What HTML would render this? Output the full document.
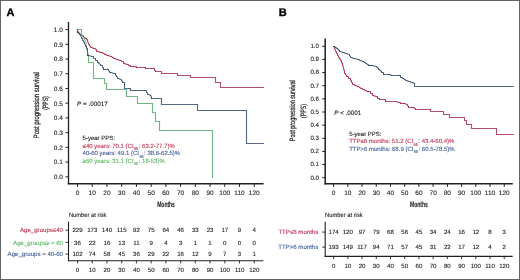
<!DOCTYPE html>
<html><head><meta charset="utf-8"><style>
html,body{margin:0;padding:0;background:#fff;}
body{width:520px;height:280px;overflow:hidden;}
svg{display:block;will-change:transform;}
svg text{font-family:"Liberation Sans", sans-serif;text-rendering:geometricPrecision;}
</style></head><body>
<svg width="520" height="280" viewBox="0 0 520 280">
<rect x="0" y="0" width="520" height="280" fill="#fff"/>
<line x1="68.50" y1="21.90" x2="68.50" y2="184.40" stroke="#202020" stroke-width="1.3"/>
<line x1="67.80" y1="183.70" x2="263.60" y2="183.70" stroke="#202020" stroke-width="1.4"/>
<line x1="65.50" y1="29.60" x2="68.50" y2="29.60" stroke="#202020" stroke-width="1.0"/>
<text x="62.90" y="31.90" font-size="6.5" text-anchor="end" fill="#262626" stroke="#262626" stroke-width="0.12" font-weight="normal" font-style="normal" >1.0</text>
<line x1="65.50" y1="44.32" x2="68.50" y2="44.32" stroke="#202020" stroke-width="1.0"/>
<text x="62.90" y="46.62" font-size="6.5" text-anchor="end" fill="#262626" stroke="#262626" stroke-width="0.12" font-weight="normal" font-style="normal" >0.9</text>
<line x1="65.50" y1="59.04" x2="68.50" y2="59.04" stroke="#202020" stroke-width="1.0"/>
<text x="62.90" y="61.34" font-size="6.5" text-anchor="end" fill="#262626" stroke="#262626" stroke-width="0.12" font-weight="normal" font-style="normal" >0.8</text>
<line x1="65.50" y1="73.76" x2="68.50" y2="73.76" stroke="#202020" stroke-width="1.0"/>
<text x="62.90" y="76.06" font-size="6.5" text-anchor="end" fill="#262626" stroke="#262626" stroke-width="0.12" font-weight="normal" font-style="normal" >0.7</text>
<line x1="65.50" y1="88.48" x2="68.50" y2="88.48" stroke="#202020" stroke-width="1.0"/>
<text x="62.90" y="90.78" font-size="6.5" text-anchor="end" fill="#262626" stroke="#262626" stroke-width="0.12" font-weight="normal" font-style="normal" >0.6</text>
<line x1="65.50" y1="103.20" x2="68.50" y2="103.20" stroke="#202020" stroke-width="1.0"/>
<text x="62.90" y="105.50" font-size="6.5" text-anchor="end" fill="#262626" stroke="#262626" stroke-width="0.12" font-weight="normal" font-style="normal" >0.5</text>
<line x1="65.50" y1="117.92" x2="68.50" y2="117.92" stroke="#202020" stroke-width="1.0"/>
<text x="62.90" y="120.22" font-size="6.5" text-anchor="end" fill="#262626" stroke="#262626" stroke-width="0.12" font-weight="normal" font-style="normal" >0.4</text>
<line x1="65.50" y1="132.64" x2="68.50" y2="132.64" stroke="#202020" stroke-width="1.0"/>
<text x="62.90" y="134.94" font-size="6.5" text-anchor="end" fill="#262626" stroke="#262626" stroke-width="0.12" font-weight="normal" font-style="normal" >0.3</text>
<line x1="65.50" y1="147.36" x2="68.50" y2="147.36" stroke="#202020" stroke-width="1.0"/>
<text x="62.90" y="149.66" font-size="6.5" text-anchor="end" fill="#262626" stroke="#262626" stroke-width="0.12" font-weight="normal" font-style="normal" >0.2</text>
<line x1="65.50" y1="162.08" x2="68.50" y2="162.08" stroke="#202020" stroke-width="1.0"/>
<text x="62.90" y="164.38" font-size="6.5" text-anchor="end" fill="#262626" stroke="#262626" stroke-width="0.12" font-weight="normal" font-style="normal" >0.1</text>
<line x1="65.50" y1="176.80" x2="68.50" y2="176.80" stroke="#202020" stroke-width="1.0"/>
<text x="62.90" y="179.10" font-size="6.5" text-anchor="end" fill="#262626" stroke="#262626" stroke-width="0.12" font-weight="normal" font-style="normal" >0.0</text>
<line x1="77.50" y1="183.70" x2="77.50" y2="186.90" stroke="#202020" stroke-width="1.0"/>
<text x="77.50" y="195.20" font-size="6.5" text-anchor="middle" fill="#262626" stroke="#262626" stroke-width="0.12" font-weight="normal" font-style="normal" >0</text>
<line x1="92.23" y1="183.70" x2="92.23" y2="186.90" stroke="#202020" stroke-width="1.0"/>
<text x="92.23" y="195.20" font-size="6.5" text-anchor="middle" fill="#262626" stroke="#262626" stroke-width="0.12" font-weight="normal" font-style="normal" >10</text>
<line x1="106.96" y1="183.70" x2="106.96" y2="186.90" stroke="#202020" stroke-width="1.0"/>
<text x="106.96" y="195.20" font-size="6.5" text-anchor="middle" fill="#262626" stroke="#262626" stroke-width="0.12" font-weight="normal" font-style="normal" >20</text>
<line x1="121.69" y1="183.70" x2="121.69" y2="186.90" stroke="#202020" stroke-width="1.0"/>
<text x="121.69" y="195.20" font-size="6.5" text-anchor="middle" fill="#262626" stroke="#262626" stroke-width="0.12" font-weight="normal" font-style="normal" >30</text>
<line x1="136.42" y1="183.70" x2="136.42" y2="186.90" stroke="#202020" stroke-width="1.0"/>
<text x="136.42" y="195.20" font-size="6.5" text-anchor="middle" fill="#262626" stroke="#262626" stroke-width="0.12" font-weight="normal" font-style="normal" >40</text>
<line x1="151.15" y1="183.70" x2="151.15" y2="186.90" stroke="#202020" stroke-width="1.0"/>
<text x="151.15" y="195.20" font-size="6.5" text-anchor="middle" fill="#262626" stroke="#262626" stroke-width="0.12" font-weight="normal" font-style="normal" >50</text>
<line x1="165.88" y1="183.70" x2="165.88" y2="186.90" stroke="#202020" stroke-width="1.0"/>
<text x="165.88" y="195.20" font-size="6.5" text-anchor="middle" fill="#262626" stroke="#262626" stroke-width="0.12" font-weight="normal" font-style="normal" >60</text>
<line x1="180.61" y1="183.70" x2="180.61" y2="186.90" stroke="#202020" stroke-width="1.0"/>
<text x="180.61" y="195.20" font-size="6.5" text-anchor="middle" fill="#262626" stroke="#262626" stroke-width="0.12" font-weight="normal" font-style="normal" >70</text>
<line x1="195.34" y1="183.70" x2="195.34" y2="186.90" stroke="#202020" stroke-width="1.0"/>
<text x="195.34" y="195.20" font-size="6.5" text-anchor="middle" fill="#262626" stroke="#262626" stroke-width="0.12" font-weight="normal" font-style="normal" >80</text>
<line x1="210.07" y1="183.70" x2="210.07" y2="186.90" stroke="#202020" stroke-width="1.0"/>
<text x="210.07" y="195.20" font-size="6.5" text-anchor="middle" fill="#262626" stroke="#262626" stroke-width="0.12" font-weight="normal" font-style="normal" >90</text>
<line x1="224.80" y1="183.70" x2="224.80" y2="186.90" stroke="#202020" stroke-width="1.0"/>
<text x="224.80" y="195.20" font-size="6.5" text-anchor="middle" fill="#262626" stroke="#262626" stroke-width="0.12" font-weight="normal" font-style="normal" >100</text>
<line x1="239.53" y1="183.70" x2="239.53" y2="186.90" stroke="#202020" stroke-width="1.0"/>
<text x="239.53" y="195.20" font-size="6.5" text-anchor="middle" fill="#262626" stroke="#262626" stroke-width="0.12" font-weight="normal" font-style="normal" >110</text>
<line x1="254.26" y1="183.70" x2="254.26" y2="186.90" stroke="#202020" stroke-width="1.0"/>
<text x="254.26" y="195.20" font-size="6.5" text-anchor="middle" fill="#262626" stroke="#262626" stroke-width="0.12" font-weight="normal" font-style="normal" >120</text>
<text x="157.20" y="206.70" font-size="8" text-anchor="start" fill="#262626" stroke="#262626" stroke-width="0.12" font-weight="bold" font-style="normal" textLength="17.7" lengthAdjust="spacingAndGlyphs">Months</text>
<text transform="translate(38.60,105.20) rotate(-90)" x="0" y="0" font-size="7.8" text-anchor="middle" fill="#262626" textLength="66" lengthAdjust="spacingAndGlyphs" stroke="#262626" stroke-width="0.25">Post progression survival</text>
<text transform="translate(48.00,103.00) rotate(-90)" x="0" y="0" font-size="7.8" text-anchor="middle" fill="#262626" textLength="13.4" lengthAdjust="spacingAndGlyphs" stroke="#262626" stroke-width="0.25">(PPS)</text>
<line x1="68.50" y1="221.60" x2="68.50" y2="261.20" stroke="#202020" stroke-width="1.1"/>
<line x1="68.00" y1="260.70" x2="263.30" y2="260.70" stroke="#202020" stroke-width="1.1"/>
<line x1="77.50" y1="260.70" x2="77.50" y2="263.40" stroke="#202020" stroke-width="0.9"/>
<text x="77.50" y="272.00" font-size="6.1" text-anchor="middle" fill="#262626" stroke="#262626" stroke-width="0.12" font-weight="normal" font-style="normal" >0</text>
<line x1="92.23" y1="260.70" x2="92.23" y2="263.40" stroke="#202020" stroke-width="0.9"/>
<text x="92.23" y="272.00" font-size="6.1" text-anchor="middle" fill="#262626" stroke="#262626" stroke-width="0.12" font-weight="normal" font-style="normal" >10</text>
<line x1="106.96" y1="260.70" x2="106.96" y2="263.40" stroke="#202020" stroke-width="0.9"/>
<text x="106.96" y="272.00" font-size="6.1" text-anchor="middle" fill="#262626" stroke="#262626" stroke-width="0.12" font-weight="normal" font-style="normal" >20</text>
<line x1="121.69" y1="260.70" x2="121.69" y2="263.40" stroke="#202020" stroke-width="0.9"/>
<text x="121.69" y="272.00" font-size="6.1" text-anchor="middle" fill="#262626" stroke="#262626" stroke-width="0.12" font-weight="normal" font-style="normal" >30</text>
<line x1="136.42" y1="260.70" x2="136.42" y2="263.40" stroke="#202020" stroke-width="0.9"/>
<text x="136.42" y="272.00" font-size="6.1" text-anchor="middle" fill="#262626" stroke="#262626" stroke-width="0.12" font-weight="normal" font-style="normal" >40</text>
<line x1="151.15" y1="260.70" x2="151.15" y2="263.40" stroke="#202020" stroke-width="0.9"/>
<text x="151.15" y="272.00" font-size="6.1" text-anchor="middle" fill="#262626" stroke="#262626" stroke-width="0.12" font-weight="normal" font-style="normal" >50</text>
<line x1="165.88" y1="260.70" x2="165.88" y2="263.40" stroke="#202020" stroke-width="0.9"/>
<text x="165.88" y="272.00" font-size="6.1" text-anchor="middle" fill="#262626" stroke="#262626" stroke-width="0.12" font-weight="normal" font-style="normal" >60</text>
<line x1="180.61" y1="260.70" x2="180.61" y2="263.40" stroke="#202020" stroke-width="0.9"/>
<text x="180.61" y="272.00" font-size="6.1" text-anchor="middle" fill="#262626" stroke="#262626" stroke-width="0.12" font-weight="normal" font-style="normal" >70</text>
<line x1="195.34" y1="260.70" x2="195.34" y2="263.40" stroke="#202020" stroke-width="0.9"/>
<text x="195.34" y="272.00" font-size="6.1" text-anchor="middle" fill="#262626" stroke="#262626" stroke-width="0.12" font-weight="normal" font-style="normal" >80</text>
<line x1="210.07" y1="260.70" x2="210.07" y2="263.40" stroke="#202020" stroke-width="0.9"/>
<text x="210.07" y="272.00" font-size="6.1" text-anchor="middle" fill="#262626" stroke="#262626" stroke-width="0.12" font-weight="normal" font-style="normal" >90</text>
<line x1="224.80" y1="260.70" x2="224.80" y2="263.40" stroke="#202020" stroke-width="0.9"/>
<text x="224.80" y="272.00" font-size="6.1" text-anchor="middle" fill="#262626" stroke="#262626" stroke-width="0.12" font-weight="normal" font-style="normal" >100</text>
<line x1="239.53" y1="260.70" x2="239.53" y2="263.40" stroke="#202020" stroke-width="0.9"/>
<text x="239.53" y="272.00" font-size="6.1" text-anchor="middle" fill="#262626" stroke="#262626" stroke-width="0.12" font-weight="normal" font-style="normal" >110</text>
<line x1="254.26" y1="260.70" x2="254.26" y2="263.40" stroke="#202020" stroke-width="0.9"/>
<text x="254.26" y="272.00" font-size="6.1" text-anchor="middle" fill="#262626" stroke="#262626" stroke-width="0.12" font-weight="normal" font-style="normal" >120</text>
<text x="68.90" y="217.10" font-size="6.2" text-anchor="start" fill="#262626" stroke="#262626" stroke-width="0.12" font-weight="normal" font-style="normal" textLength="37.6" lengthAdjust="spacingAndGlyphs">Number at risk</text>
<line x1="65.50" y1="230.20" x2="68.50" y2="230.20" stroke="#202020" stroke-width="0.9"/>
<text x="63.00" y="232.40" font-size="6.1" text-anchor="end" fill="#c4365a" stroke="#c4365a" stroke-width="0.12" font-weight="normal" font-style="normal" >Age_groups≤40</text>
<text x="77.50" y="232.40" font-size="6.1" text-anchor="middle" fill="#262626" stroke="#262626" stroke-width="0.12" font-weight="normal" font-style="normal" >229</text>
<text x="92.23" y="232.40" font-size="6.1" text-anchor="middle" fill="#262626" stroke="#262626" stroke-width="0.12" font-weight="normal" font-style="normal" >173</text>
<text x="106.96" y="232.40" font-size="6.1" text-anchor="middle" fill="#262626" stroke="#262626" stroke-width="0.12" font-weight="normal" font-style="normal" >140</text>
<text x="121.69" y="232.40" font-size="6.1" text-anchor="middle" fill="#262626" stroke="#262626" stroke-width="0.12" font-weight="normal" font-style="normal" >115</text>
<text x="136.42" y="232.40" font-size="6.1" text-anchor="middle" fill="#262626" stroke="#262626" stroke-width="0.12" font-weight="normal" font-style="normal" >92</text>
<text x="151.15" y="232.40" font-size="6.1" text-anchor="middle" fill="#262626" stroke="#262626" stroke-width="0.12" font-weight="normal" font-style="normal" >75</text>
<text x="165.88" y="232.40" font-size="6.1" text-anchor="middle" fill="#262626" stroke="#262626" stroke-width="0.12" font-weight="normal" font-style="normal" >64</text>
<text x="180.61" y="232.40" font-size="6.1" text-anchor="middle" fill="#262626" stroke="#262626" stroke-width="0.12" font-weight="normal" font-style="normal" >46</text>
<text x="195.34" y="232.40" font-size="6.1" text-anchor="middle" fill="#262626" stroke="#262626" stroke-width="0.12" font-weight="normal" font-style="normal" >33</text>
<text x="210.07" y="232.40" font-size="6.1" text-anchor="middle" fill="#262626" stroke="#262626" stroke-width="0.12" font-weight="normal" font-style="normal" >23</text>
<text x="224.80" y="232.40" font-size="6.1" text-anchor="middle" fill="#262626" stroke="#262626" stroke-width="0.12" font-weight="normal" font-style="normal" >17</text>
<text x="239.53" y="232.40" font-size="6.1" text-anchor="middle" fill="#262626" stroke="#262626" stroke-width="0.12" font-weight="normal" font-style="normal" >9</text>
<text x="254.26" y="232.40" font-size="6.1" text-anchor="middle" fill="#262626" stroke="#262626" stroke-width="0.12" font-weight="normal" font-style="normal" >4</text>
<line x1="65.50" y1="242.40" x2="68.50" y2="242.40" stroke="#202020" stroke-width="0.9"/>
<text x="63.00" y="244.60" font-size="6.1" text-anchor="end" fill="#5fb866" stroke="#5fb866" stroke-width="0.12" font-weight="normal" font-style="normal" >Age_groups≥ = 60</text>
<text x="77.50" y="244.60" font-size="6.1" text-anchor="middle" fill="#262626" stroke="#262626" stroke-width="0.12" font-weight="normal" font-style="normal" >36</text>
<text x="92.23" y="244.60" font-size="6.1" text-anchor="middle" fill="#262626" stroke="#262626" stroke-width="0.12" font-weight="normal" font-style="normal" >22</text>
<text x="106.96" y="244.60" font-size="6.1" text-anchor="middle" fill="#262626" stroke="#262626" stroke-width="0.12" font-weight="normal" font-style="normal" >16</text>
<text x="121.69" y="244.60" font-size="6.1" text-anchor="middle" fill="#262626" stroke="#262626" stroke-width="0.12" font-weight="normal" font-style="normal" >13</text>
<text x="136.42" y="244.60" font-size="6.1" text-anchor="middle" fill="#262626" stroke="#262626" stroke-width="0.12" font-weight="normal" font-style="normal" >11</text>
<text x="151.15" y="244.60" font-size="6.1" text-anchor="middle" fill="#262626" stroke="#262626" stroke-width="0.12" font-weight="normal" font-style="normal" >9</text>
<text x="165.88" y="244.60" font-size="6.1" text-anchor="middle" fill="#262626" stroke="#262626" stroke-width="0.12" font-weight="normal" font-style="normal" >4</text>
<text x="180.61" y="244.60" font-size="6.1" text-anchor="middle" fill="#262626" stroke="#262626" stroke-width="0.12" font-weight="normal" font-style="normal" >3</text>
<text x="195.34" y="244.60" font-size="6.1" text-anchor="middle" fill="#262626" stroke="#262626" stroke-width="0.12" font-weight="normal" font-style="normal" >1</text>
<text x="210.07" y="244.60" font-size="6.1" text-anchor="middle" fill="#262626" stroke="#262626" stroke-width="0.12" font-weight="normal" font-style="normal" >1</text>
<text x="224.80" y="244.60" font-size="6.1" text-anchor="middle" fill="#262626" stroke="#262626" stroke-width="0.12" font-weight="normal" font-style="normal" >0</text>
<text x="239.53" y="244.60" font-size="6.1" text-anchor="middle" fill="#262626" stroke="#262626" stroke-width="0.12" font-weight="normal" font-style="normal" >0</text>
<text x="254.26" y="244.60" font-size="6.1" text-anchor="middle" fill="#262626" stroke="#262626" stroke-width="0.12" font-weight="normal" font-style="normal" >0</text>
<line x1="65.50" y1="254.10" x2="68.50" y2="254.10" stroke="#202020" stroke-width="0.9"/>
<text x="63.00" y="256.30" font-size="6.1" text-anchor="end" fill="#44619a" stroke="#44619a" stroke-width="0.12" font-weight="normal" font-style="normal" >Age_groups = 40-60</text>
<text x="77.50" y="256.30" font-size="6.1" text-anchor="middle" fill="#262626" stroke="#262626" stroke-width="0.12" font-weight="normal" font-style="normal" >102</text>
<text x="92.23" y="256.30" font-size="6.1" text-anchor="middle" fill="#262626" stroke="#262626" stroke-width="0.12" font-weight="normal" font-style="normal" >74</text>
<text x="106.96" y="256.30" font-size="6.1" text-anchor="middle" fill="#262626" stroke="#262626" stroke-width="0.12" font-weight="normal" font-style="normal" >58</text>
<text x="121.69" y="256.30" font-size="6.1" text-anchor="middle" fill="#262626" stroke="#262626" stroke-width="0.12" font-weight="normal" font-style="normal" >45</text>
<text x="136.42" y="256.30" font-size="6.1" text-anchor="middle" fill="#262626" stroke="#262626" stroke-width="0.12" font-weight="normal" font-style="normal" >36</text>
<text x="151.15" y="256.30" font-size="6.1" text-anchor="middle" fill="#262626" stroke="#262626" stroke-width="0.12" font-weight="normal" font-style="normal" >29</text>
<text x="165.88" y="256.30" font-size="6.1" text-anchor="middle" fill="#262626" stroke="#262626" stroke-width="0.12" font-weight="normal" font-style="normal" >22</text>
<text x="180.61" y="256.30" font-size="6.1" text-anchor="middle" fill="#262626" stroke="#262626" stroke-width="0.12" font-weight="normal" font-style="normal" >16</text>
<text x="195.34" y="256.30" font-size="6.1" text-anchor="middle" fill="#262626" stroke="#262626" stroke-width="0.12" font-weight="normal" font-style="normal" >12</text>
<text x="210.07" y="256.30" font-size="6.1" text-anchor="middle" fill="#262626" stroke="#262626" stroke-width="0.12" font-weight="normal" font-style="normal" >9</text>
<text x="224.80" y="256.30" font-size="6.1" text-anchor="middle" fill="#262626" stroke="#262626" stroke-width="0.12" font-weight="normal" font-style="normal" >7</text>
<text x="239.53" y="256.30" font-size="6.1" text-anchor="middle" fill="#262626" stroke="#262626" stroke-width="0.12" font-weight="normal" font-style="normal" >3</text>
<text x="254.26" y="256.30" font-size="6.1" text-anchor="middle" fill="#262626" stroke="#262626" stroke-width="0.12" font-weight="normal" font-style="normal" >1</text>
<line x1="325.20" y1="38.60" x2="325.20" y2="184.40" stroke="#202020" stroke-width="1.5"/>
<line x1="324.50" y1="183.70" x2="512.80" y2="183.70" stroke="#202020" stroke-width="1.4"/>
<line x1="322.20" y1="46.30" x2="325.20" y2="46.30" stroke="#202020" stroke-width="1.0"/>
<text x="319.00" y="48.10" font-size="6.2" text-anchor="end" fill="#262626" stroke="#262626" stroke-width="0.12" font-weight="normal" font-style="normal" >1.0</text>
<line x1="322.20" y1="59.44" x2="325.20" y2="59.44" stroke="#202020" stroke-width="1.0"/>
<text x="319.00" y="61.24" font-size="6.2" text-anchor="end" fill="#262626" stroke="#262626" stroke-width="0.12" font-weight="normal" font-style="normal" >0.9</text>
<line x1="322.20" y1="72.58" x2="325.20" y2="72.58" stroke="#202020" stroke-width="1.0"/>
<text x="319.00" y="74.38" font-size="6.2" text-anchor="end" fill="#262626" stroke="#262626" stroke-width="0.12" font-weight="normal" font-style="normal" >0.8</text>
<line x1="322.20" y1="85.72" x2="325.20" y2="85.72" stroke="#202020" stroke-width="1.0"/>
<text x="319.00" y="87.52" font-size="6.2" text-anchor="end" fill="#262626" stroke="#262626" stroke-width="0.12" font-weight="normal" font-style="normal" >0.7</text>
<line x1="322.20" y1="98.86" x2="325.20" y2="98.86" stroke="#202020" stroke-width="1.0"/>
<text x="319.00" y="100.66" font-size="6.2" text-anchor="end" fill="#262626" stroke="#262626" stroke-width="0.12" font-weight="normal" font-style="normal" >0.6</text>
<line x1="322.20" y1="112.00" x2="325.20" y2="112.00" stroke="#202020" stroke-width="1.0"/>
<text x="319.00" y="113.80" font-size="6.2" text-anchor="end" fill="#262626" stroke="#262626" stroke-width="0.12" font-weight="normal" font-style="normal" >0.5</text>
<line x1="322.20" y1="125.14" x2="325.20" y2="125.14" stroke="#202020" stroke-width="1.0"/>
<text x="319.00" y="126.94" font-size="6.2" text-anchor="end" fill="#262626" stroke="#262626" stroke-width="0.12" font-weight="normal" font-style="normal" >0.4</text>
<line x1="322.20" y1="138.28" x2="325.20" y2="138.28" stroke="#202020" stroke-width="1.0"/>
<text x="319.00" y="140.08" font-size="6.2" text-anchor="end" fill="#262626" stroke="#262626" stroke-width="0.12" font-weight="normal" font-style="normal" >0.3</text>
<line x1="322.20" y1="151.42" x2="325.20" y2="151.42" stroke="#202020" stroke-width="1.0"/>
<text x="319.00" y="153.22" font-size="6.2" text-anchor="end" fill="#262626" stroke="#262626" stroke-width="0.12" font-weight="normal" font-style="normal" >0.2</text>
<line x1="322.20" y1="164.56" x2="325.20" y2="164.56" stroke="#202020" stroke-width="1.0"/>
<text x="319.00" y="166.36" font-size="6.2" text-anchor="end" fill="#262626" stroke="#262626" stroke-width="0.12" font-weight="normal" font-style="normal" >0.1</text>
<line x1="322.20" y1="177.70" x2="325.20" y2="177.70" stroke="#202020" stroke-width="1.0"/>
<text x="319.00" y="179.50" font-size="6.2" text-anchor="end" fill="#262626" stroke="#262626" stroke-width="0.12" font-weight="normal" font-style="normal" >0.0</text>
<line x1="333.60" y1="183.70" x2="333.60" y2="186.90" stroke="#202020" stroke-width="1.0"/>
<text x="333.60" y="195.30" font-size="6.5" text-anchor="middle" fill="#262626" stroke="#262626" stroke-width="0.12" font-weight="normal" font-style="normal" >0</text>
<line x1="347.82" y1="183.70" x2="347.82" y2="186.90" stroke="#202020" stroke-width="1.0"/>
<text x="347.82" y="195.30" font-size="6.5" text-anchor="middle" fill="#262626" stroke="#262626" stroke-width="0.12" font-weight="normal" font-style="normal" >10</text>
<line x1="362.04" y1="183.70" x2="362.04" y2="186.90" stroke="#202020" stroke-width="1.0"/>
<text x="362.04" y="195.30" font-size="6.5" text-anchor="middle" fill="#262626" stroke="#262626" stroke-width="0.12" font-weight="normal" font-style="normal" >20</text>
<line x1="376.26" y1="183.70" x2="376.26" y2="186.90" stroke="#202020" stroke-width="1.0"/>
<text x="376.26" y="195.30" font-size="6.5" text-anchor="middle" fill="#262626" stroke="#262626" stroke-width="0.12" font-weight="normal" font-style="normal" >30</text>
<line x1="390.48" y1="183.70" x2="390.48" y2="186.90" stroke="#202020" stroke-width="1.0"/>
<text x="390.48" y="195.30" font-size="6.5" text-anchor="middle" fill="#262626" stroke="#262626" stroke-width="0.12" font-weight="normal" font-style="normal" >40</text>
<line x1="404.70" y1="183.70" x2="404.70" y2="186.90" stroke="#202020" stroke-width="1.0"/>
<text x="404.70" y="195.30" font-size="6.5" text-anchor="middle" fill="#262626" stroke="#262626" stroke-width="0.12" font-weight="normal" font-style="normal" >50</text>
<line x1="418.92" y1="183.70" x2="418.92" y2="186.90" stroke="#202020" stroke-width="1.0"/>
<text x="418.92" y="195.30" font-size="6.5" text-anchor="middle" fill="#262626" stroke="#262626" stroke-width="0.12" font-weight="normal" font-style="normal" >60</text>
<line x1="433.14" y1="183.70" x2="433.14" y2="186.90" stroke="#202020" stroke-width="1.0"/>
<text x="433.14" y="195.30" font-size="6.5" text-anchor="middle" fill="#262626" stroke="#262626" stroke-width="0.12" font-weight="normal" font-style="normal" >70</text>
<line x1="447.36" y1="183.70" x2="447.36" y2="186.90" stroke="#202020" stroke-width="1.0"/>
<text x="447.36" y="195.30" font-size="6.5" text-anchor="middle" fill="#262626" stroke="#262626" stroke-width="0.12" font-weight="normal" font-style="normal" >80</text>
<line x1="461.58" y1="183.70" x2="461.58" y2="186.90" stroke="#202020" stroke-width="1.0"/>
<text x="461.58" y="195.30" font-size="6.5" text-anchor="middle" fill="#262626" stroke="#262626" stroke-width="0.12" font-weight="normal" font-style="normal" >90</text>
<line x1="475.80" y1="183.70" x2="475.80" y2="186.90" stroke="#202020" stroke-width="1.0"/>
<text x="475.80" y="195.30" font-size="6.5" text-anchor="middle" fill="#262626" stroke="#262626" stroke-width="0.12" font-weight="normal" font-style="normal" >100</text>
<line x1="490.02" y1="183.70" x2="490.02" y2="186.90" stroke="#202020" stroke-width="1.0"/>
<text x="490.02" y="195.30" font-size="6.5" text-anchor="middle" fill="#262626" stroke="#262626" stroke-width="0.12" font-weight="normal" font-style="normal" >110</text>
<line x1="504.24" y1="183.70" x2="504.24" y2="186.90" stroke="#202020" stroke-width="1.0"/>
<text x="504.24" y="195.30" font-size="6.5" text-anchor="middle" fill="#262626" stroke="#262626" stroke-width="0.12" font-weight="normal" font-style="normal" >120</text>
<text x="410.00" y="206.60" font-size="8" text-anchor="start" fill="#262626" stroke="#262626" stroke-width="0.12" font-weight="bold" font-style="normal" textLength="17.9" lengthAdjust="spacingAndGlyphs">Months</text>
<text transform="translate(294.90,110.70) rotate(-90)" x="0" y="0" font-size="7.8" text-anchor="middle" fill="#262626" textLength="61" lengthAdjust="spacingAndGlyphs" stroke="#262626" stroke-width="0.25">Post progression survival</text>
<text transform="translate(306.00,111.00) rotate(-90)" x="0" y="0" font-size="7.8" text-anchor="middle" fill="#262626" textLength="14.2" lengthAdjust="spacingAndGlyphs" stroke="#262626" stroke-width="0.25">(PPS)</text>
<line x1="325.20" y1="221.70" x2="325.20" y2="256.90" stroke="#202020" stroke-width="1.1"/>
<line x1="324.70" y1="256.40" x2="512.70" y2="256.40" stroke="#202020" stroke-width="1.1"/>
<line x1="333.60" y1="256.40" x2="333.60" y2="259.10" stroke="#202020" stroke-width="0.9"/>
<text x="333.60" y="267.70" font-size="6.1" text-anchor="middle" fill="#262626" stroke="#262626" stroke-width="0.12" font-weight="normal" font-style="normal" >0</text>
<line x1="347.82" y1="256.40" x2="347.82" y2="259.10" stroke="#202020" stroke-width="0.9"/>
<text x="347.82" y="267.70" font-size="6.1" text-anchor="middle" fill="#262626" stroke="#262626" stroke-width="0.12" font-weight="normal" font-style="normal" >10</text>
<line x1="362.04" y1="256.40" x2="362.04" y2="259.10" stroke="#202020" stroke-width="0.9"/>
<text x="362.04" y="267.70" font-size="6.1" text-anchor="middle" fill="#262626" stroke="#262626" stroke-width="0.12" font-weight="normal" font-style="normal" >20</text>
<line x1="376.26" y1="256.40" x2="376.26" y2="259.10" stroke="#202020" stroke-width="0.9"/>
<text x="376.26" y="267.70" font-size="6.1" text-anchor="middle" fill="#262626" stroke="#262626" stroke-width="0.12" font-weight="normal" font-style="normal" >30</text>
<line x1="390.48" y1="256.40" x2="390.48" y2="259.10" stroke="#202020" stroke-width="0.9"/>
<text x="390.48" y="267.70" font-size="6.1" text-anchor="middle" fill="#262626" stroke="#262626" stroke-width="0.12" font-weight="normal" font-style="normal" >40</text>
<line x1="404.70" y1="256.40" x2="404.70" y2="259.10" stroke="#202020" stroke-width="0.9"/>
<text x="404.70" y="267.70" font-size="6.1" text-anchor="middle" fill="#262626" stroke="#262626" stroke-width="0.12" font-weight="normal" font-style="normal" >50</text>
<line x1="418.92" y1="256.40" x2="418.92" y2="259.10" stroke="#202020" stroke-width="0.9"/>
<text x="418.92" y="267.70" font-size="6.1" text-anchor="middle" fill="#262626" stroke="#262626" stroke-width="0.12" font-weight="normal" font-style="normal" >60</text>
<line x1="433.14" y1="256.40" x2="433.14" y2="259.10" stroke="#202020" stroke-width="0.9"/>
<text x="433.14" y="267.70" font-size="6.1" text-anchor="middle" fill="#262626" stroke="#262626" stroke-width="0.12" font-weight="normal" font-style="normal" >70</text>
<line x1="447.36" y1="256.40" x2="447.36" y2="259.10" stroke="#202020" stroke-width="0.9"/>
<text x="447.36" y="267.70" font-size="6.1" text-anchor="middle" fill="#262626" stroke="#262626" stroke-width="0.12" font-weight="normal" font-style="normal" >80</text>
<line x1="461.58" y1="256.40" x2="461.58" y2="259.10" stroke="#202020" stroke-width="0.9"/>
<text x="461.58" y="267.70" font-size="6.1" text-anchor="middle" fill="#262626" stroke="#262626" stroke-width="0.12" font-weight="normal" font-style="normal" >90</text>
<line x1="475.80" y1="256.40" x2="475.80" y2="259.10" stroke="#202020" stroke-width="0.9"/>
<text x="475.80" y="267.70" font-size="6.1" text-anchor="middle" fill="#262626" stroke="#262626" stroke-width="0.12" font-weight="normal" font-style="normal" >100</text>
<line x1="490.02" y1="256.40" x2="490.02" y2="259.10" stroke="#202020" stroke-width="0.9"/>
<text x="490.02" y="267.70" font-size="6.1" text-anchor="middle" fill="#262626" stroke="#262626" stroke-width="0.12" font-weight="normal" font-style="normal" >110</text>
<line x1="504.24" y1="256.40" x2="504.24" y2="259.10" stroke="#202020" stroke-width="0.9"/>
<text x="504.24" y="267.70" font-size="6.1" text-anchor="middle" fill="#262626" stroke="#262626" stroke-width="0.12" font-weight="normal" font-style="normal" >120</text>
<text x="325.10" y="217.10" font-size="6.2" text-anchor="start" fill="#262626" stroke="#262626" stroke-width="0.12" font-weight="normal" font-style="normal" textLength="37.6" lengthAdjust="spacingAndGlyphs">Number at risk</text>
<line x1="322.20" y1="232.10" x2="325.20" y2="232.10" stroke="#202020" stroke-width="0.9"/>
<text x="318.30" y="234.30" font-size="6.1" text-anchor="end" fill="#c4365a" stroke="#c4365a" stroke-width="0.12" font-weight="normal" font-style="normal" >TTP≤6 months</text>
<text x="333.60" y="234.30" font-size="6.1" text-anchor="middle" fill="#262626" stroke="#262626" stroke-width="0.12" font-weight="normal" font-style="normal" >174</text>
<text x="347.82" y="234.30" font-size="6.1" text-anchor="middle" fill="#262626" stroke="#262626" stroke-width="0.12" font-weight="normal" font-style="normal" >120</text>
<text x="362.04" y="234.30" font-size="6.1" text-anchor="middle" fill="#262626" stroke="#262626" stroke-width="0.12" font-weight="normal" font-style="normal" >97</text>
<text x="376.26" y="234.30" font-size="6.1" text-anchor="middle" fill="#262626" stroke="#262626" stroke-width="0.12" font-weight="normal" font-style="normal" >79</text>
<text x="390.48" y="234.30" font-size="6.1" text-anchor="middle" fill="#262626" stroke="#262626" stroke-width="0.12" font-weight="normal" font-style="normal" >68</text>
<text x="404.70" y="234.30" font-size="6.1" text-anchor="middle" fill="#262626" stroke="#262626" stroke-width="0.12" font-weight="normal" font-style="normal" >56</text>
<text x="418.92" y="234.30" font-size="6.1" text-anchor="middle" fill="#262626" stroke="#262626" stroke-width="0.12" font-weight="normal" font-style="normal" >45</text>
<text x="433.14" y="234.30" font-size="6.1" text-anchor="middle" fill="#262626" stroke="#262626" stroke-width="0.12" font-weight="normal" font-style="normal" >34</text>
<text x="447.36" y="234.30" font-size="6.1" text-anchor="middle" fill="#262626" stroke="#262626" stroke-width="0.12" font-weight="normal" font-style="normal" >24</text>
<text x="461.58" y="234.30" font-size="6.1" text-anchor="middle" fill="#262626" stroke="#262626" stroke-width="0.12" font-weight="normal" font-style="normal" >16</text>
<text x="475.80" y="234.30" font-size="6.1" text-anchor="middle" fill="#262626" stroke="#262626" stroke-width="0.12" font-weight="normal" font-style="normal" >12</text>
<text x="490.02" y="234.30" font-size="6.1" text-anchor="middle" fill="#262626" stroke="#262626" stroke-width="0.12" font-weight="normal" font-style="normal" >8</text>
<text x="504.24" y="234.30" font-size="6.1" text-anchor="middle" fill="#262626" stroke="#262626" stroke-width="0.12" font-weight="normal" font-style="normal" >3</text>
<line x1="322.20" y1="247.10" x2="325.20" y2="247.10" stroke="#202020" stroke-width="0.9"/>
<text x="318.30" y="249.30" font-size="6.1" text-anchor="end" fill="#44619a" stroke="#44619a" stroke-width="0.12" font-weight="normal" font-style="normal" >TTP&gt;6 months</text>
<text x="333.60" y="249.30" font-size="6.1" text-anchor="middle" fill="#262626" stroke="#262626" stroke-width="0.12" font-weight="normal" font-style="normal" >193</text>
<text x="347.82" y="249.30" font-size="6.1" text-anchor="middle" fill="#262626" stroke="#262626" stroke-width="0.12" font-weight="normal" font-style="normal" >149</text>
<text x="362.04" y="249.30" font-size="6.1" text-anchor="middle" fill="#262626" stroke="#262626" stroke-width="0.12" font-weight="normal" font-style="normal" >117</text>
<text x="376.26" y="249.30" font-size="6.1" text-anchor="middle" fill="#262626" stroke="#262626" stroke-width="0.12" font-weight="normal" font-style="normal" >94</text>
<text x="390.48" y="249.30" font-size="6.1" text-anchor="middle" fill="#262626" stroke="#262626" stroke-width="0.12" font-weight="normal" font-style="normal" >71</text>
<text x="404.70" y="249.30" font-size="6.1" text-anchor="middle" fill="#262626" stroke="#262626" stroke-width="0.12" font-weight="normal" font-style="normal" >57</text>
<text x="418.92" y="249.30" font-size="6.1" text-anchor="middle" fill="#262626" stroke="#262626" stroke-width="0.12" font-weight="normal" font-style="normal" >45</text>
<text x="433.14" y="249.30" font-size="6.1" text-anchor="middle" fill="#262626" stroke="#262626" stroke-width="0.12" font-weight="normal" font-style="normal" >31</text>
<text x="447.36" y="249.30" font-size="6.1" text-anchor="middle" fill="#262626" stroke="#262626" stroke-width="0.12" font-weight="normal" font-style="normal" >22</text>
<text x="461.58" y="249.30" font-size="6.1" text-anchor="middle" fill="#262626" stroke="#262626" stroke-width="0.12" font-weight="normal" font-style="normal" >17</text>
<text x="475.80" y="249.30" font-size="6.1" text-anchor="middle" fill="#262626" stroke="#262626" stroke-width="0.12" font-weight="normal" font-style="normal" >12</text>
<text x="490.02" y="249.30" font-size="6.1" text-anchor="middle" fill="#262626" stroke="#262626" stroke-width="0.12" font-weight="normal" font-style="normal" >4</text>
<text x="504.24" y="249.30" font-size="6.1" text-anchor="middle" fill="#262626" stroke="#262626" stroke-width="0.12" font-weight="normal" font-style="normal" >2</text>
<text x="6.60" y="15.90" font-size="11" text-anchor="start" fill="#000" stroke="#000" stroke-width="0.35" font-weight="bold" font-style="normal" >A</text>
<text x="278.70" y="16.00" font-size="11" text-anchor="start" fill="#000" stroke="#000" stroke-width="0.35" font-weight="bold" font-style="normal" >B</text>
<text x="77.10" y="106.40" font-size="6.3" text-anchor="start" fill="#262626" stroke="#262626" stroke-width="0.12" font-weight="normal" font-style="normal" ><tspan font-style="italic">P</tspan> = .00017</text>
<text x="334.20" y="114.60" font-size="6.3" text-anchor="start" fill="#262626" stroke="#262626" stroke-width="0.12" font-weight="normal" font-style="normal" ><tspan font-style="italic">P</tspan> &lt; .0001</text>
<text x="82.60" y="140.10" font-size="6.0" text-anchor="start" fill="#262626" stroke="#262626" stroke-width="0.12" font-weight="normal" font-style="normal" >5-year PPS:</text>
<text x="82.60" y="147.60" font-size="6.0" text-anchor="start" fill="#c4365a" stroke="#c4365a" stroke-width="0.12" font-weight="normal" font-style="normal" >≤40 years: 70.1 (CI<tspan font-size="3.8" dx="0.4" dy="2.4">95</tspan><tspan dx="0.5" dy="-2.4">: 63.2-77.7)%</tspan></text>
<text x="82.60" y="155.10" font-size="6.0" text-anchor="start" fill="#44619a" stroke="#44619a" stroke-width="0.12" font-weight="normal" font-style="normal" >40-60 years: 49.1 (CI<tspan font-size="3.8" dx="0.4" dy="2.4">95</tspan><tspan dx="0.5" dy="-2.4">: 38.6-62.5)%</tspan></text>
<text x="82.60" y="162.50" font-size="6.0" text-anchor="start" fill="#5fb866" stroke="#5fb866" stroke-width="0.12" font-weight="normal" font-style="normal" >≥60 years: 31.1 (CI<tspan font-size="3.8" dx="0.4" dy="2.4">95</tspan><tspan dx="0.5" dy="-2.4">: 18-53)%</tspan></text>
<text x="349.20" y="135.80" font-size="6.0" text-anchor="start" fill="#262626" stroke="#262626" stroke-width="0.12" font-weight="normal" font-style="normal" >5-year PPS:</text>
<text x="349.20" y="143.30" font-size="6.0" text-anchor="start" fill="#c4365a" stroke="#c4365a" stroke-width="0.12" font-weight="normal" font-style="normal" >TTP≤6 months: 51.2 (CI<tspan font-size="3.8" dx="0.4" dy="2.4">95</tspan><tspan dx="0.5" dy="-2.4">: 43.4-60.4)%</tspan></text>
<text x="349.20" y="150.80" font-size="6.0" text-anchor="start" fill="#44619a" stroke="#44619a" stroke-width="0.12" font-weight="normal" font-style="normal" >TTP&gt;6 months: 68.9 (CI<tspan font-size="3.8" dx="0.4" dy="2.4">95</tspan><tspan dx="0.5" dy="-2.4">: 60.5-78.5)%</tspan></text>
<path d="M77.50,29.50L77.50,31.50M100.50,52.50L101.50,52.50M130.50,66.50L135.50,66.50M136.50,67.50L144.50,67.50M145.50,68.50L153.50,68.50M155.50,71.50L161.50,71.50M161.50,71.50L161.50,73.50M161.50,73.50L177.50,73.50M177.50,73.50L177.50,75.50M177.50,75.50L190.50,75.50M190.50,75.50L190.50,77.50M190.50,77.50L215.50,77.50M215.50,77.50L215.50,82.50M215.50,82.50L220.50,82.50M220.50,82.50L220.50,87.50M220.50,87.50L263.50,87.50" fill="none" stroke="#b44d67" stroke-width="1.15" stroke-linecap="square"/>
<path d="M77.50,31.50L78.50,31.50L78.50,33.00L79.50,33.00L79.50,34.50L81.50,34.50L81.50,35.50L83.50,35.50L83.50,37.50L85.00,37.50L85.00,38.50L86.50,38.50L86.50,39.50L87.50,39.50L87.50,41.50L88.00,41.50L88.00,43.00L88.50,43.00L88.50,44.50L89.50,44.50L89.50,46.00L90.50,46.00L90.50,47.50L92.00,47.50L92.00,48.00L93.50,48.00L93.50,48.50L95.50,48.50L95.50,49.50L96.50,49.50L96.50,51.50L98.50,51.50L98.50,52.00L100.50,52.00L100.50,52.50M101.50,52.50L103.00,52.50L103.00,53.50L104.50,53.50L104.50,54.50L106.50,54.50L106.50,55.50L108.50,55.50L108.50,56.00L110.50,56.00L110.50,56.50L112.00,56.50L112.00,57.50L113.50,57.50L113.50,58.50L115.00,58.50L115.00,59.00L116.50,59.00L116.50,59.50L118.00,59.50L118.00,60.00L119.50,60.00L119.50,60.50L121.50,60.50L121.50,61.50L123.50,61.50L123.50,63.50L125.00,63.50L125.00,64.00L126.50,64.00L126.50,64.50L128.50,64.50L128.50,65.50L130.50,65.50L130.50,66.50M135.50,66.50L136.50,66.50L136.50,67.50M144.50,67.50L145.50,67.50L145.50,68.50M153.50,68.50L154.50,68.50L154.50,70.50L155.50,70.50L155.50,71.50" fill="none" stroke="#a8203f" stroke-width="0.94" stroke-linejoin="miter" stroke-linecap="square"/>
<path d="M77.50,29.50L81.50,29.50M81.50,29.50L81.50,35.50M88.50,56.50L88.50,62.50M88.50,62.50L93.50,62.50M93.50,62.50L93.50,78.50M93.50,78.50L104.50,78.50M104.50,78.50L104.50,83.50M104.50,83.50L106.50,83.50M106.50,83.50L106.50,89.50M106.50,89.50L126.50,89.50M126.50,89.50L126.50,96.50M126.50,96.50L137.50,96.50M137.50,96.50L137.50,103.50M137.50,103.50L152.50,103.50M152.50,103.50L152.50,112.50M152.50,112.50L155.50,112.50M155.50,112.50L155.50,121.50M155.50,121.50L159.50,121.50M159.50,121.50L159.50,130.50M159.50,130.50L212.50,130.50M212.50,130.50L212.50,177.50" fill="none" stroke="#70b785" stroke-width="1.15" stroke-linecap="square"/>
<path d="M81.50,35.50L82.50,35.50L82.50,37.00L83.50,37.00L83.50,38.50L84.50,38.50L84.50,40.00L85.50,40.00L85.50,41.50L85.83,41.50L85.83,43.50L86.17,43.50L86.17,45.50L86.50,45.50L86.50,47.50L87.00,47.50L87.00,50.00L87.50,50.00L87.50,52.50L88.00,52.50L88.00,54.50L88.50,54.50L88.50,56.50" fill="none" stroke="#78b888" stroke-width="0.94" stroke-linejoin="miter" stroke-linecap="square"/>
<path d="M77.50,29.50L77.50,32.50M87.50,50.50L87.50,55.50M103.50,69.50L107.50,69.50M124.50,84.50L124.50,88.50M124.50,88.50L129.50,88.50M130.50,90.50L144.50,90.50M151.50,98.50L161.50,98.50M161.50,98.50L161.50,104.50M161.50,104.50L197.50,104.50M197.50,104.50L197.50,110.50M197.50,110.50L246.50,110.50M246.50,110.50L246.50,143.50M246.50,143.50L263.50,143.50" fill="none" stroke="#556888" stroke-width="1.15" stroke-linecap="square"/>
<path d="M77.50,32.50L79.00,32.50L79.00,34.00L80.50,34.00L80.50,35.50L81.00,35.50L81.00,37.00L81.50,37.00L81.50,38.50L82.50,38.50L82.50,40.50L83.50,40.50L83.50,42.00L84.50,42.00L84.50,43.50L85.00,43.50L85.00,45.00L85.50,45.00L85.50,46.50L86.50,46.50L86.50,48.50L87.50,48.50L87.50,50.50M87.50,55.50L89.50,55.50L89.50,56.00L91.50,56.00L91.50,56.50L93.50,56.50L93.50,58.50L95.50,58.50L95.50,60.50L97.50,60.50L97.50,62.50L99.00,62.50L99.00,64.00L100.50,64.00L100.50,65.50L102.50,65.50L102.50,67.50L103.50,67.50L103.50,69.50M107.50,69.50L108.50,69.50L108.50,71.00L109.50,71.00L109.50,72.50L111.50,72.50L111.50,73.00L113.50,73.00L113.50,73.50L115.50,73.50L115.50,75.50L116.50,75.50L116.50,77.00L117.50,77.00L117.50,78.50L119.00,78.50L119.00,79.00L120.50,79.00L120.50,79.50L121.50,79.50L121.50,81.00L122.50,81.00L122.50,82.50L124.50,82.50L124.50,84.50M129.50,88.50L130.50,88.50L130.50,90.50M144.50,90.50L146.50,90.50L146.50,92.50L147.50,92.50L147.50,94.50L149.00,94.50L149.00,95.00L150.50,95.00L150.50,95.50L151.00,95.50L151.00,97.00L151.50,97.00L151.50,98.50" fill="none" stroke="#2c4a68" stroke-width="0.94" stroke-linejoin="miter" stroke-linecap="square"/>
<path d="M367.50,91.50L368.50,91.50M379.50,99.50L384.50,99.50M385.50,101.50L391.50,101.50M391.50,101.50L394.50,101.50M400.50,103.50L403.50,103.50M408.50,107.50L412.50,107.50M415.50,109.50L430.50,109.50M430.50,109.50L430.50,111.50M430.50,111.50L443.50,111.50M443.50,111.50L443.50,114.50M443.50,114.50L449.50,114.50M449.50,114.50L449.50,117.50M449.50,117.50L464.50,117.50M464.50,117.50L464.50,120.50M464.50,120.50L466.50,120.50M466.50,120.50L466.50,124.50M466.50,124.50L471.50,124.50M471.50,124.50L471.50,128.50M471.50,128.50L496.50,128.50M496.50,128.50L496.50,134.50M496.50,134.50L513.50,134.50" fill="none" stroke="#b44d67" stroke-width="1.15" stroke-linecap="square"/>
<path d="M333.50,46.50L334.25,46.50L334.25,48.25L335.00,48.25L335.00,50.00L335.75,50.00L335.75,51.75L336.50,51.75L336.50,53.50L337.50,53.50L337.50,55.50L338.50,55.50L338.50,57.50L339.50,57.50L339.50,59.00L340.50,59.00L340.50,60.50L341.50,60.50L341.50,63.00L342.50,63.00L342.50,65.50L343.00,65.50L343.00,67.00L343.50,67.00L343.50,68.50L344.00,68.50L344.00,71.00L344.50,71.00L344.50,73.50L345.50,73.50L345.50,75.00L346.50,75.00L346.50,76.50L348.50,76.50L348.50,78.50L350.50,78.50L350.50,80.50L351.50,80.50L351.50,82.50L352.50,82.50L352.50,84.50L354.50,84.50L354.50,85.50L356.00,85.50L356.00,86.00L357.50,86.00L357.50,86.50L359.00,86.50L359.00,87.50L360.50,87.50L360.50,88.50L362.50,88.50L362.50,89.50L364.50,89.50L364.50,90.50L366.00,90.50L366.00,91.00L367.50,91.00L367.50,91.50M368.50,91.50L370.50,91.50L370.50,93.50L372.50,93.50L372.50,95.50L374.00,95.50L374.00,96.00L375.50,96.00L375.50,96.50L377.50,96.50L377.50,98.50L379.50,98.50L379.50,99.50M384.50,99.50L385.50,99.50L385.50,101.50M394.50,101.50L396.50,101.50L396.50,102.00L398.50,102.00L398.50,102.50L400.50,102.50L400.50,103.50M403.50,103.50L405.00,103.50L405.00,104.00L406.50,104.00L406.50,104.50L407.50,104.50L407.50,106.00L408.50,106.00L408.50,107.50M412.50,107.50L414.50,107.50L414.50,108.50L415.50,108.50L415.50,109.50" fill="none" stroke="#a8203f" stroke-width="0.94" stroke-linejoin="miter" stroke-linecap="square"/>
<path d="M368.50,65.50L370.50,65.50M383.50,74.50L388.50,74.50M391.50,75.50L398.50,75.50M414.50,83.50L414.50,86.50M414.50,86.50L513.50,86.50" fill="none" stroke="#556888" stroke-width="1.15" stroke-linecap="square"/>
<path d="M333.50,46.50L335.00,46.50L335.00,47.50L336.50,47.50L336.50,48.50L338.00,48.50L338.00,50.00L339.50,50.00L339.50,51.50L341.00,51.50L341.00,52.00L342.50,52.00L342.50,52.50L344.00,52.50L344.00,53.00L345.50,53.00L345.50,53.50L347.00,53.50L347.00,54.00L348.50,54.00L348.50,54.50L349.50,54.50L349.50,56.00L350.50,56.00L350.50,57.50L352.00,57.50L352.00,58.00L353.50,58.00L353.50,58.50L355.50,58.50L355.50,59.00L357.50,59.00L357.50,59.50L359.50,59.50L359.50,60.50L361.00,60.50L361.00,61.00L362.50,61.00L362.50,61.50L364.00,61.50L364.00,62.50L365.50,62.50L365.50,63.50L367.00,63.50L367.00,64.50L368.50,64.50L368.50,65.50M370.50,65.50L373.00,65.50L373.00,66.00L375.50,66.00L375.50,66.50L377.00,66.50L377.00,68.00L378.50,68.00L378.50,69.50L380.00,69.50L380.00,71.00L381.50,71.00L381.50,72.50L383.50,72.50L383.50,74.50M388.50,74.50L390.00,74.50L390.00,75.00L391.50,75.00L391.50,75.50M398.50,75.50L400.50,75.50L400.50,77.50L402.50,77.50L402.50,78.50L404.00,78.50L404.00,79.50L405.50,79.50L405.50,80.50L407.00,80.50L407.00,81.00L408.50,81.00L408.50,81.50L410.00,81.50L410.00,82.00L411.50,82.00L411.50,82.50L413.00,82.50L413.00,83.00L414.50,83.00L414.50,83.50" fill="none" stroke="#2c4a68" stroke-width="0.94" stroke-linejoin="miter" stroke-linecap="square"/>
<rect x="0.5" y="0.5" width="519" height="279" fill="none" stroke="#646464" stroke-width="1"/>
</svg>
</body></html>
